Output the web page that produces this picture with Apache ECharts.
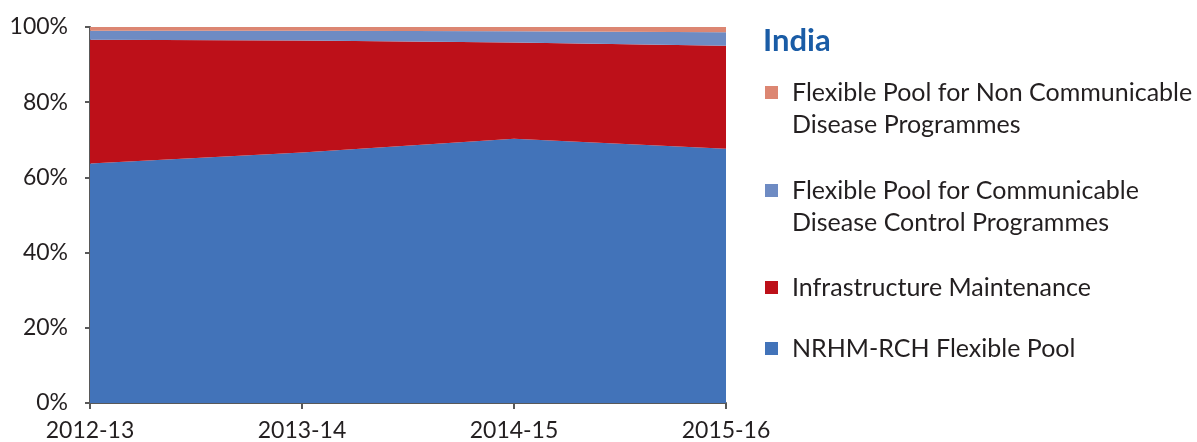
<!DOCTYPE html>
<html>
<head>
<meta charset="utf-8">
<script src="https://cdn.jsdelivr.net/npm/echarts@6/dist/echarts.min.js"></script>
<style>
  html, body { margin: 0; padding: 0; background: #fff; }
  #main { width: 1197px; height: 442px; }
</style>
</head>
<body>
<div id="main"></div>
<script>
// 年度
const years = ['2012-13', '2013-14', '2014-15', '2015-16'];
// share of funds, % (stacked, bottom to top)
const nrhmPool = [63.7, 66.6, 70.3, 67.6];
const infraMaint = [32.9, 29.8, 25.6, 27.4];
const cdPool = [2.4, 2.6, 3.0, 3.6];
const ncdPool = [1.0, 1.0, 1.1, 1.4];

const names = {
  ncd: 'Flexible Pool for Non Communicable Disease Programmes',
  cd: 'Flexible Pool for Communicable Disease Control Programmes',
  infra: 'Infrastructure Maintenance',
  nrhm: 'NRHM-RCH Flexible Pool'
};
// legend lines; first line lines up with the swatch
const legendLines = {
  [names.ncd]: ['Flexible Pool for Non Communicable', 'Disease Programmes'],
  [names.cd]: ['Flexible Pool for Communicable', 'Disease Control Programmes'],
  [names.infra]: ['Infrastructure Maintenance'],
  [names.nrhm]: ['NRHM-RCH Flexible Pool']
};

const font = 'Lato';
const lh = 32;

function legendAt(name, iconY) {
  const lines = legendLines[name];
  const two = lines.length > 1;
  return {
    data: [name],
    left: 765,
    top: two ? iconY - 1.5 * lh : iconY - 0.5 * lh,
    orient: 'vertical',
    padding: 0,
    icon: 'rect',
    itemWidth: 13,
    itemHeight: 13,
    itemGap: 0,
    selectedMode: false,
    formatter: () => (two ? ['{t|\u00a0}'] : []).concat(lines.map(l => '{t|' + l + '}')).join('\n'),
    textStyle: {
      rich: {
        t: { fontFamily: font, fontSize: 25, color: '#231f20', lineHeight: lh, padding: [0, 0, 0, 9] }
      }
    }
  };
}

function area(name, data, color) {
  return {
    name: name,
    type: 'line',
    stack: 'total',
    data: data,
    symbol: 'none',
    lineStyle: { width: 0 },
    areaStyle: { color: color, opacity: 1 },
    itemStyle: { color: color }
  };
}

const chart = echarts.init(document.getElementById('main'));
chart.setOption({
  animation: false,
  title: {
    text: 'India',
    left: 758,
    top: 20,
    textStyle: { fontFamily: font, fontSize: 31, fontWeight: 'bold', color: '#1a5ca6' }
  },
  legend: [
    legendAt(names.ncd, 96),
    legendAt(names.cd, 194),
    legendAt(names.infra, 291),
    legendAt(names.nrhm, 352)
  ],
  grid: { left: 90, right: 471, top: 27, bottom: 38 },
  xAxis: {
    type: 'category',
    data: years,
    boundaryGap: false,
    axisLine: { lineStyle: { color: '#595959', width: 2 } },
    axisTick: { show: true, length: 6, lineStyle: { color: '#595959', width: 2 } },
    axisLabel: { fontFamily: font, fontSize: 23, color: '#231f20', margin: 16 }
  },
  yAxis: {
    type: 'value',
    min: 0,
    max: 100,
    interval: 20,
    splitLine: { show: false },
    axisLine: { show: true, lineStyle: { color: '#595959', width: 2 } },
    axisTick: { show: true, length: 5, lineStyle: { color: '#595959', width: 2 } },
    axisLabel: { fontFamily: font, fontSize: 23, color: '#231f20', formatter: '{value}%', margin: 22 }
  },
  series: [
    area(names.nrhm, nrhmPool, '#4273b9'),
    area(names.infra, infraMaint, '#bd1019'),
    area(names.cd, cdPool, '#6e8bc3'),
    area(names.ncd, ncdPool, '#dc8672')
  ]
});
</script>
</body>
</html>
